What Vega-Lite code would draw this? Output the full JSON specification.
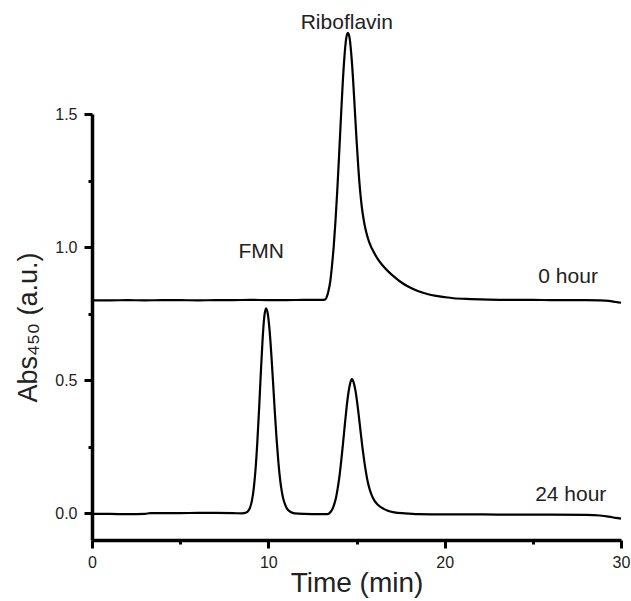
{
  "$schema": "https://vega.github.io/schema/vega-lite/v6.json",
  "width": 529,
  "height": 426,
  "autosize": "none",
  "padding": {"left": 92, "top": 114, "right": 10, "bottom": 61},
  "background": "white",
  "config": {"view": {"stroke": null}, "font": "Liberation Sans"},
  "datasets": {
    "traces": [
      {"series": "0 hour", "time": 0, "abs": 0.800},
      {"series": "0 hour", "time": 1, "abs": 0.800},
      {"series": "0 hour", "time": 2, "abs": 0.801},
      {"series": "0 hour", "time": 3, "abs": 0.800},
      {"series": "0 hour", "time": 4, "abs": 0.801},
      {"series": "0 hour", "time": 5, "abs": 0.801},
      {"series": "0 hour", "time": 6, "abs": 0.800},
      {"series": "0 hour", "time": 7, "abs": 0.801},
      {"series": "0 hour", "time": 8, "abs": 0.801},
      {"series": "0 hour", "time": 9, "abs": 0.802},
      {"series": "0 hour", "time": 10, "abs": 0.801},
      {"series": "0 hour", "time": 11, "abs": 0.801},
      {"series": "0 hour", "time": 12, "abs": 0.802},
      {"series": "0 hour", "time": 12.8, "abs": 0.802},
      {"series": "0 hour", "time": 13.0, "abs": 0.802},
      {"series": "0 hour", "time": 13.21, "abs": 0.803},
      {"series": "0 hour", "time": 13.31, "abs": 0.812},
      {"series": "0 hour", "time": 13.41, "abs": 0.835},
      {"series": "0 hour", "time": 13.51, "abs": 0.870},
      {"series": "0 hour", "time": 13.61, "abs": 0.930},
      {"series": "0 hour", "time": 13.71, "abs": 1.005},
      {"series": "0 hour", "time": 13.81, "abs": 1.100},
      {"series": "0 hour", "time": 13.91, "abs": 1.213},
      {"series": "0 hour", "time": 14.01, "abs": 1.342},
      {"series": "0 hour", "time": 14.11, "abs": 1.477},
      {"series": "0 hour", "time": 14.21, "abs": 1.605},
      {"series": "0 hour", "time": 14.31, "abs": 1.710},
      {"series": "0 hour", "time": 14.41, "abs": 1.781},
      {"series": "0 hour", "time": 14.51, "abs": 1.805},
      {"series": "0 hour", "time": 14.61, "abs": 1.785},
      {"series": "0 hour", "time": 14.71, "abs": 1.720},
      {"series": "0 hour", "time": 14.81, "abs": 1.625},
      {"series": "0 hour", "time": 14.91, "abs": 1.510},
      {"series": "0 hour", "time": 15.01, "abs": 1.395},
      {"series": "0 hour", "time": 15.11, "abs": 1.292},
      {"series": "0 hour", "time": 15.21, "abs": 1.208},
      {"series": "0 hour", "time": 15.31, "abs": 1.146},
      {"series": "0 hour", "time": 15.41, "abs": 1.102},
      {"series": "0 hour", "time": 15.51, "abs": 1.068},
      {"series": "0 hour", "time": 15.61, "abs": 1.042},
      {"series": "0 hour", "time": 15.71, "abs": 1.021},
      {"series": "0 hour", "time": 15.81, "abs": 1.004},
      {"series": "0 hour", "time": 15.91, "abs": 0.990},
      {"series": "0 hour", "time": 16.21, "abs": 0.955},
      {"series": "0 hour", "time": 16.51, "abs": 0.929},
      {"series": "0 hour", "time": 16.81, "abs": 0.908},
      {"series": "0 hour", "time": 17.11, "abs": 0.890},
      {"series": "0 hour", "time": 17.51, "abs": 0.869},
      {"series": "0 hour", "time": 18.01, "abs": 0.849},
      {"series": "0 hour", "time": 18.51, "abs": 0.834},
      {"series": "0 hour", "time": 19.01, "abs": 0.824},
      {"series": "0 hour", "time": 19.51, "abs": 0.817},
      {"series": "0 hour", "time": 20.01, "abs": 0.812},
      {"series": "0 hour", "time": 20.5, "abs": 0.808},
      {"series": "0 hour", "time": 21.5, "abs": 0.805},
      {"series": "0 hour", "time": 22.5, "abs": 0.803},
      {"series": "0 hour", "time": 24, "abs": 0.802},
      {"series": "0 hour", "time": 25, "abs": 0.802},
      {"series": "0 hour", "time": 26, "abs": 0.801},
      {"series": "0 hour", "time": 27, "abs": 0.801},
      {"series": "0 hour", "time": 28, "abs": 0.801},
      {"series": "0 hour", "time": 28.8, "abs": 0.800},
      {"series": "0 hour", "time": 29.3, "abs": 0.798},
      {"series": "0 hour", "time": 29.7, "abs": 0.794},
      {"series": "0 hour", "time": 30, "abs": 0.791},

      {"series": "24 hour", "time": 0, "abs": -0.002},
      {"series": "24 hour", "time": 1, "abs": -0.002},
      {"series": "24 hour", "time": 2, "abs": -0.003},
      {"series": "24 hour", "time": 3, "abs": -0.002},
      {"series": "24 hour", "time": 3.3, "abs": 0.001},
      {"series": "24 hour", "time": 4, "abs": 0.001},
      {"series": "24 hour", "time": 5, "abs": 0.001},
      {"series": "24 hour", "time": 6, "abs": 0.002},
      {"series": "24 hour", "time": 7, "abs": 0.002},
      {"series": "24 hour", "time": 8, "abs": 0.001},
      {"series": "24 hour", "time": 8.5, "abs": 0.000},
      {"series": "24 hour", "time": 8.75, "abs": 0.003},
      {"series": "24 hour", "time": 8.87, "abs": 0.010},
      {"series": "24 hour", "time": 8.97, "abs": 0.023},
      {"series": "24 hour", "time": 9.07, "abs": 0.048},
      {"series": "24 hour", "time": 9.17, "abs": 0.092},
      {"series": "24 hour", "time": 9.27, "abs": 0.162},
      {"series": "24 hour", "time": 9.37, "abs": 0.261},
      {"series": "24 hour", "time": 9.47, "abs": 0.385},
      {"series": "24 hour", "time": 9.57, "abs": 0.521},
      {"series": "24 hour", "time": 9.67, "abs": 0.648},
      {"series": "24 hour", "time": 9.77, "abs": 0.738},
      {"series": "24 hour", "time": 9.87, "abs": 0.770},
      {"series": "24 hour", "time": 9.97, "abs": 0.749},
      {"series": "24 hour", "time": 10.07, "abs": 0.688},
      {"series": "24 hour", "time": 10.17, "abs": 0.597},
      {"series": "24 hour", "time": 10.27, "abs": 0.490},
      {"series": "24 hour", "time": 10.37, "abs": 0.379},
      {"series": "24 hour", "time": 10.47, "abs": 0.278},
      {"series": "24 hour", "time": 10.57, "abs": 0.192},
      {"series": "24 hour", "time": 10.67, "abs": 0.126},
      {"series": "24 hour", "time": 10.77, "abs": 0.080},
      {"series": "24 hour", "time": 10.87, "abs": 0.049},
      {"series": "24 hour", "time": 10.97, "abs": 0.030},
      {"series": "24 hour", "time": 11.07, "abs": 0.017},
      {"series": "24 hour", "time": 11.27, "abs": 0.005},
      {"series": "24 hour", "time": 11.5, "abs": 0.000},
      {"series": "24 hour", "time": 12, "abs": -0.002},
      {"series": "24 hour", "time": 13, "abs": -0.003},
      {"series": "24 hour", "time": 13.35, "abs": -0.003},
      {"series": "24 hour", "time": 13.54, "abs": 0.006},
      {"series": "24 hour", "time": 13.64, "abs": 0.017},
      {"series": "24 hour", "time": 13.74, "abs": 0.035},
      {"series": "24 hour", "time": 13.84, "abs": 0.060},
      {"series": "24 hour", "time": 13.94, "abs": 0.097},
      {"series": "24 hour", "time": 14.04, "abs": 0.143},
      {"series": "24 hour", "time": 14.14, "abs": 0.201},
      {"series": "24 hour", "time": 14.24, "abs": 0.266},
      {"series": "24 hour", "time": 14.34, "abs": 0.334},
      {"series": "24 hour", "time": 14.44, "abs": 0.399},
      {"series": "24 hour", "time": 14.54, "abs": 0.452},
      {"series": "24 hour", "time": 14.64, "abs": 0.488},
      {"series": "24 hour", "time": 14.74, "abs": 0.504},
      {"series": "24 hour", "time": 14.84, "abs": 0.491},
      {"series": "24 hour", "time": 14.94, "abs": 0.461},
      {"series": "24 hour", "time": 15.04, "abs": 0.416},
      {"series": "24 hour", "time": 15.14, "abs": 0.361},
      {"series": "24 hour", "time": 15.24, "abs": 0.302},
      {"series": "24 hour", "time": 15.34, "abs": 0.246},
      {"series": "24 hour", "time": 15.44, "abs": 0.196},
      {"series": "24 hour", "time": 15.54, "abs": 0.153},
      {"series": "24 hour", "time": 15.64, "abs": 0.118},
      {"series": "24 hour", "time": 15.74, "abs": 0.092},
      {"series": "24 hour", "time": 15.84, "abs": 0.072},
      {"series": "24 hour", "time": 15.94, "abs": 0.057},
      {"series": "24 hour", "time": 16.14, "abs": 0.037},
      {"series": "24 hour", "time": 16.34, "abs": 0.025},
      {"series": "24 hour", "time": 16.54, "abs": 0.017},
      {"series": "24 hour", "time": 16.74, "abs": 0.011},
      {"series": "24 hour", "time": 17.14, "abs": 0.004},
      {"series": "24 hour", "time": 17.74, "abs": 0.000},
      {"series": "24 hour", "time": 18.5, "abs": -0.003},
      {"series": "24 hour", "time": 20, "abs": -0.004},
      {"series": "24 hour", "time": 22, "abs": -0.004},
      {"series": "24 hour", "time": 24, "abs": -0.005},
      {"series": "24 hour", "time": 26, "abs": -0.005},
      {"series": "24 hour", "time": 28, "abs": -0.006},
      {"series": "24 hour", "time": 28.8, "abs": -0.008},
      {"series": "24 hour", "time": 29.3, "abs": -0.012},
      {"series": "24 hour", "time": 29.7, "abs": -0.017},
      {"series": "24 hour", "time": 30, "abs": -0.020}
    ],
    "labels": [
      {"label": "Riboflavin", "time": 14.45, "abs": 1.84},
      {"label": "FMN", "time": 9.6, "abs": 0.98},
      {"label": "0 hour", "time": 27.0, "abs": 0.888},
      {"label": "24 hour", "time": 27.15, "abs": 0.069}
    ]
  },
  "layer": [
    {
      "data": {"name": "traces"},
      "mark": {"type": "line", "color": "black", "strokeWidth": 2.2, "interpolate": "monotone"},
      "encoding": {
        "x": {
          "field": "time", "type": "quantitative",
          "scale": {"domain": [0, 30], "nice": false, "zero": false},
          "axis": {
            "title": "Time (min)",
            "values": [0, 5, 10, 15, 20, 25, 30],
            "labelExpr": "datum.value % 10 === 0 ? datum.label : ''",
            "grid": false,
            "domainColor": "black", "domainWidth": 3.5,
            "tickColor": "black", "tickWidth": 3,
            "tickSize": {"condition": {"test": "datum.value % 10 === 0", "value": 8}, "value": 4},
            "labelFont": "Liberation Sans", "labelFontSize": 16, "labelColor": "#222",
            "labelPadding": 6, "labelFlush": false,
            "titleFont": "Liberation Sans", "titleFontSize": 28, "titleFontWeight": "normal",
            "titleColor": "#222", "titlePadding": -1
          }
        },
        "y": {
          "field": "abs", "type": "quantitative",
          "scale": {"domain": [-0.1, 1.5], "nice": false, "zero": false},
          "axis": {
            "title": "Abs₄₅₀ (a.u.)",
            "values": [0, 0.25, 0.5, 0.75, 1, 1.25, 1.5],
            "format": ".1f",
            "labelExpr": "datum.value % 0.5 === 0 ? datum.label : ''",
            "grid": false,
            "domainColor": "black", "domainWidth": 3.5,
            "tickColor": "black", "tickWidth": 3,
            "tickSize": {"condition": {"test": "datum.value % 0.5 === 0", "value": 8}, "value": 4},
            "labelFont": "Liberation Sans", "labelFontSize": 16, "labelColor": "#222",
            "labelPadding": 7, "labelFlush": false,
            "titleFont": "Liberation Sans", "titleFontSize": 27, "titleFontWeight": "normal",
            "titleColor": "#222", "titlePadding": 12
          }
        },
        "detail": {"field": "series"}
      }
    },
    {
      "data": {"name": "labels"},
      "mark": {"type": "text", "fontSize": 21, "color": "#222", "font": "Liberation Sans", "align": "center", "baseline": "middle"},
      "encoding": {
        "x": {"field": "time", "type": "quantitative"},
        "y": {"field": "abs", "type": "quantitative"},
        "text": {"field": "label"}
      }
    }
  ]
}
